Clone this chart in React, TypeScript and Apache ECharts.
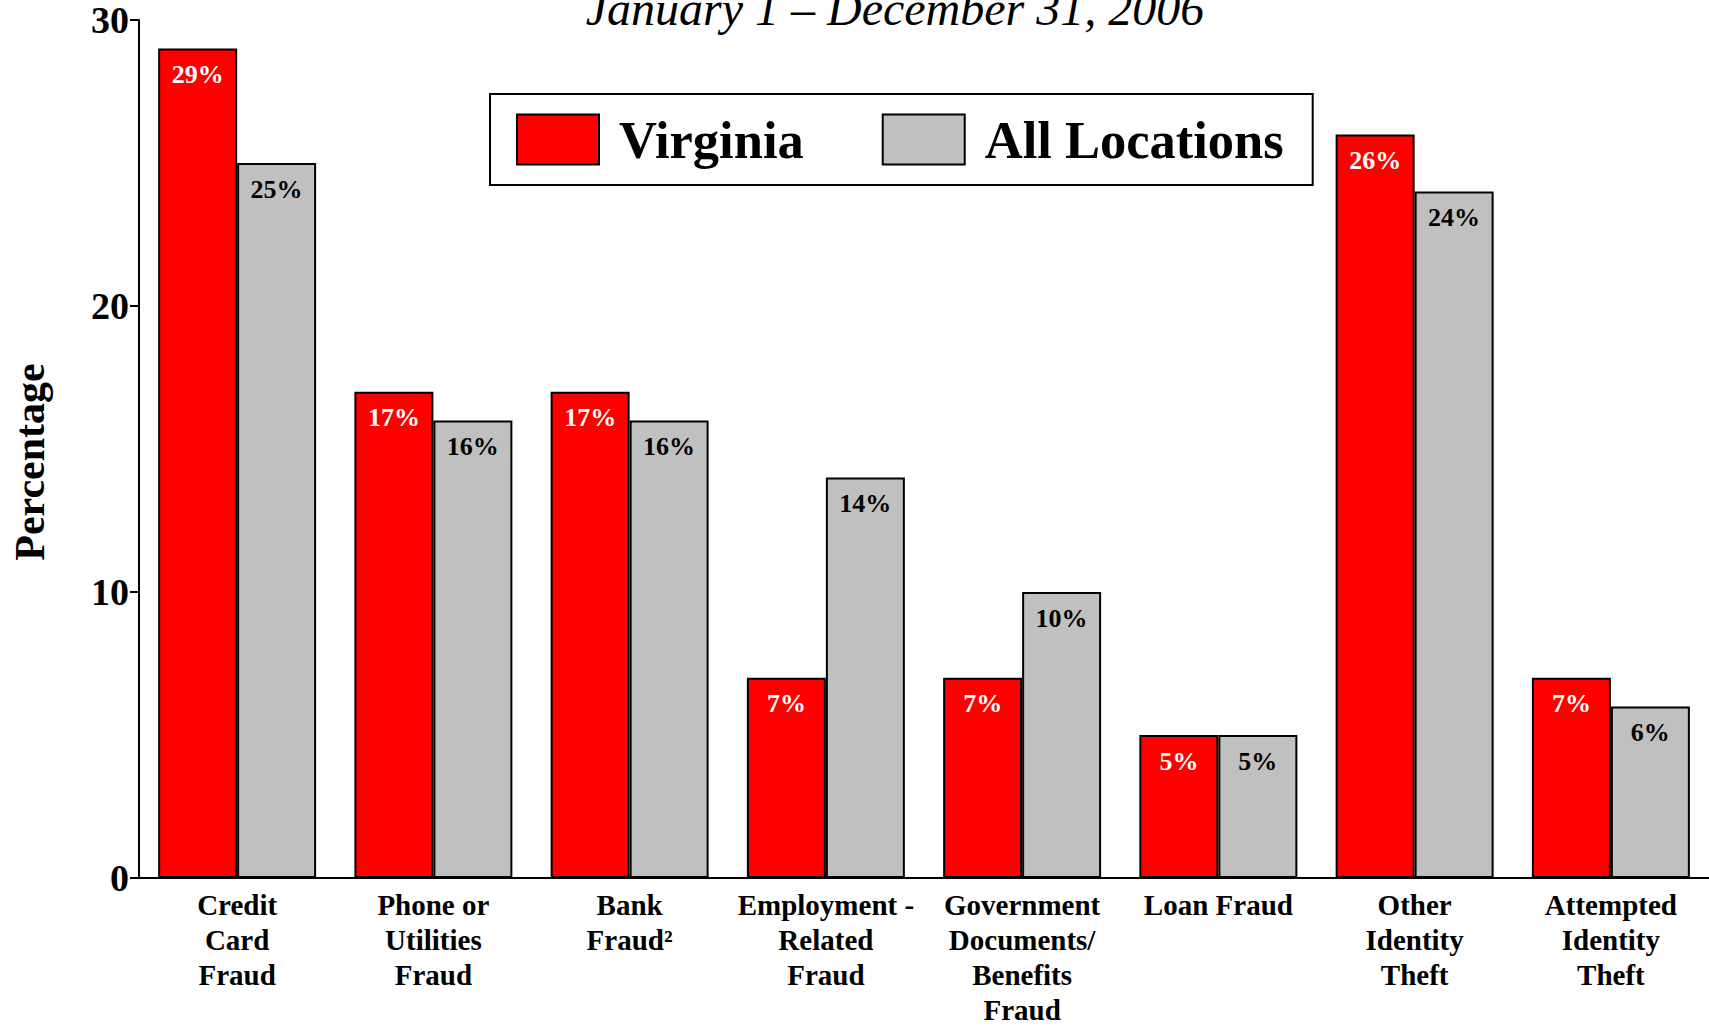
import React, { useEffect, useRef } from "react";
import * as echarts from "echarts";

const categories = [
  "Credit\nCard\nFraud",
  "Phone or\nUtilities\nFraud",
  "Bank\nFraud²",
  "Employment -\nRelated\nFraud",
  "Government\nDocuments/\nBenefits\nFraud",
  "Loan Fraud",
  "Other\nIdentity\nTheft",
  "Attempted\nIdentity\nTheft",
];
const virginia = [29, 17, 17, 7, 7, 5, 26, 7];
const allLocations = [25, 16, 16, 14, 10, 5, 24, 6];
const yTicks = { min: 0, max: 30, interval: 10 };
const titleText = "January 1 – December 31, 2006";
const yAxisTitle = "Percentage";

const FONT = '"Liberation Serif", "Times New Roman", serif';

export default function App() {
  const ref = useRef<HTMLDivElement>(null);
  useEffect(() => {
    if (!ref.current) return;
    const chart = echarts.init(ref.current, undefined, { renderer: "svg" });
    chart.setOption({
      animation: false,
      backgroundColor: "#ffffff",
      textStyle: { fontFamily: FONT },
      grid: { left: 139, right: -6, top: 20, bottom: 144, containLabel: false },
      graphic: [
        {
          type: "text",
          x: 895,
          y: 8,
          style: {
            text: titleText,
            font: `italic 48px ${FONT}`,
            fill: "#000",
            textAlign: "center",
            textVerticalAlign: "middle",
          },
        },
        {
          type: "text",
          x: 30,
          y: 462,
          rotation: Math.PI / 2,
          style: {
            text: yAxisTitle,
            font: `bold 42px ${FONT}`,
            fill: "#000",
            textAlign: "center",
            textVerticalAlign: "middle",
          },
        },
      ],
      legend: {
        left: 490,
        top: 94,
        orient: "horizontal",
        icon: "rect",
        itemWidth: 82,
        itemHeight: 50,
        itemGap: 78,
        padding: [19, 29, 19, 26],
        borderColor: "#000",
        borderWidth: 2,
        backgroundColor: "#fff",
        textStyle: {
          fontFamily: FONT,
          fontSize: 52.5,
          fontWeight: "bold",
          color: "#000",
          padding: [0, 0, 0, 15],
        },
        data: ["Virginia", "All Locations"],
      },
      xAxis: {
        type: "category",
        data: categories,
        axisTick: { show: false },
        axisLine: { show: true, lineStyle: { color: "#000", width: 2 } },
        axisLabel: {
          interval: 0,
          fontFamily: FONT,
          fontSize: 29,
          fontWeight: "bold",
          lineHeight: 35,
          color: "#000",
          margin: 9,
        },
      },
      yAxis: {
        type: "value",
        min: yTicks.min,
        max: yTicks.max,
        interval: yTicks.interval,
        splitLine: { show: false },
        axisLine: { show: true, lineStyle: { color: "#000", width: 2 } },
        axisTick: { show: true, length: 9, lineStyle: { color: "#000", width: 2 } },
        axisLabel: {
          fontFamily: FONT,
          fontSize: 38,
          fontWeight: "bold",
          color: "#000",
          margin: 10,
        },
      },
      series: [
        {
          name: "Virginia",
          type: "bar",
          data: virginia,
          barGap: "0%",
          barCategoryGap: "19.5%",
          itemStyle: { color: "#ff0000", borderColor: "#000", borderWidth: 2 },
          label: {
            show: true,
            position: "insideTop",
            distance: 13,
            formatter: "{c}%",
            fontFamily: FONT,
            fontSize: 26,
            fontWeight: "bold",
            color: "#fff",
          },
        },
        {
          name: "All Locations",
          type: "bar",
          data: allLocations,
          barGap: "0%",
          barCategoryGap: "19.5%",
          itemStyle: { color: "#c0c0c0", borderColor: "#000", borderWidth: 2 },
          label: {
            show: true,
            position: "insideTop",
            distance: 13,
            formatter: "{c}%",
            fontFamily: FONT,
            fontSize: 26,
            fontWeight: "bold",
            color: "#000",
          },
        },
      ],
    });
    return () => chart.dispose();
  }, []);
  return (
    <div
      ref={ref}
      style={{ position: "fixed", left: 0, top: 0, width: 1709, height: 1027, background: "#fff" }}
    />
  );
}
